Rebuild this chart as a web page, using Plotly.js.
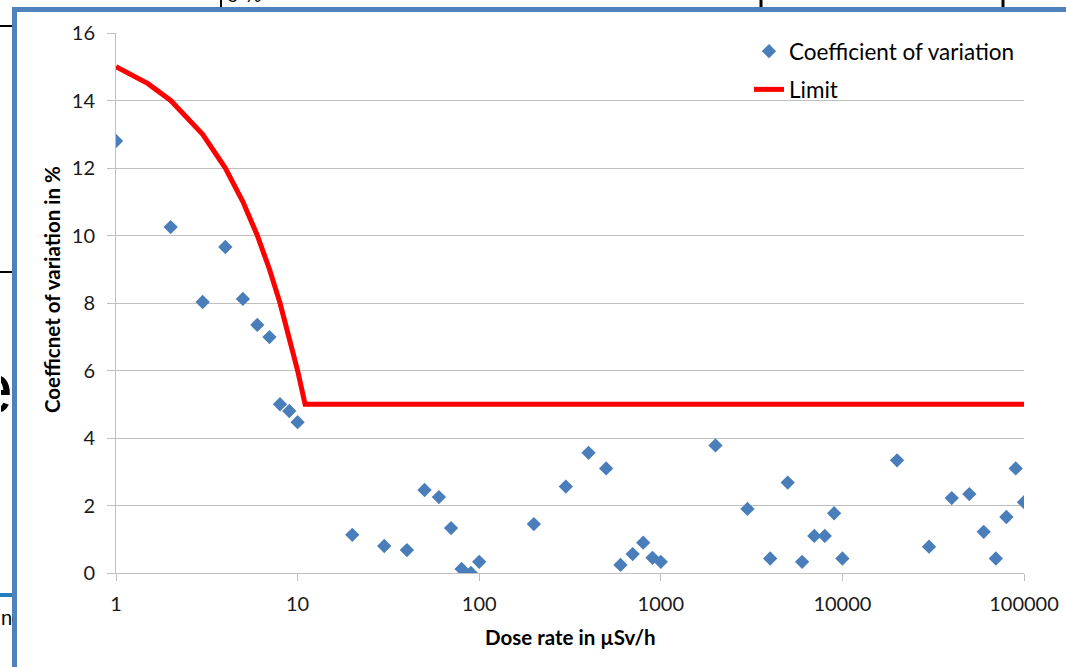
<!DOCTYPE html>
<html>
<head>
<meta charset="utf-8">
<script src="https://cdn.plot.ly/plotly-3.0.1.min.js"></script>
<style>html,body{margin:0;padding:0;background:#fff;}#chart{width:1066px;height:667px;}</style>
</head>
<body>
<div id="chart"></div>
<script>
// Measured data
const doseRate = [1,2,3,4,5,6,7,8,9,10,20,30,40,50,60,70,80,90,100,200,300,400,500,600,700,800,900,1000,2000,3000,4000,5000,6000,7000,8000,9000,10000,20000,30000,40000,50000,60000,70000,80000,90000,100000];
const coeffVar = [12.8,10.25,8.03,9.66,8.12,7.35,6.99,5.0,4.8,4.47,1.13,0.8,0.68,2.46,2.25,1.33,0.12,0.0,0.33,1.45,2.56,3.56,3.1,0.24,0.56,0.9,0.45,0.33,3.78,1.9,0.43,2.68,0.33,1.1,1.1,1.77,0.43,3.34,0.78,2.22,2.34,1.22,0.43,1.66,3.1,2.1];
const limitX = [1,1.5,2,3,4,5,6,7,8,9,10,11,100000];
const limitY = [15,14.5,14,13,12,11,10,9,8,7,6,5,5];
const xTickVals = [1,10,100,1000,10000,100000];
const xTickText = ['1','10','100','1000','10000','100000'];
const seriesNames = ['Coefficient of variation', 'Limit'];
const xTitle = 'Dose rate in µSv/h';
const yTitle = 'Coefficnet of variation in %';

// pixel -> paper helpers (plot area 116..1024 x, 33..573 y)
const PX = p => (p - 116) / 908;
const PY = p => (573 - p) / 540;

const fontFam = 'Lato, "Open Sans", sans-serif';
const axisGray = '#bfbfbf';

const traces = [
  {
    x: doseRate, y: coeffVar, type: 'scatter', mode: 'markers',
    name: seriesNames[0], legendgroup: 'a',
    marker: {symbol: 'diamond', size: 11, color: '#4a7ebb'}
  },
  {
    x: limitX, y: limitY, type: 'scatter', mode: 'lines',
    name: seriesNames[1], legendgroup: 'b',
    line: {color: '#ff0000', width: 5}
  }
];

const frameColor = '#4f81bd';
const L = (x0, y0, x1, y1, color, width) => ({type:'line', xref:'paper', yref:'paper', layer:'above',
  x0:PX(x0), x1:PX(x1), y0:PY(y0), y1:PY(y1), line:{color:color, width:width}});
const shapes = [
  // artifacts outside the frame
  L(0, 26, 13, 26, '#000', 2),
  L(0, 272, 13, 272, '#000', 2),
  L(0, 595, 13, 595, '#1f7fbf', 4),
  L(221, 0, 221, 10, '#000', 2),
  L(761, 0, 761, 10, '#000', 3),
  L(1003, 0, 1003, 10, '#000', 3),
  // slide frame
  L(14.5, 7, 14.5, 667, frameColor, 5),
  L(12, 9.5, 1066, 9.5, frameColor, 5)
];

const annotations = [
  // y axis title
  {xref:'paper', yref:'paper', x:PX(52), y:PY(290), xanchor:'center', yanchor:'middle', textangle:-90,
   text:'<b>' + yTitle + '</b>', showarrow:false, font:{family:fontFam, size:20.5, color:'#000'}},
  // x axis title
  {xref:'paper', yref:'paper', x:PX(570), y:PY(637), xanchor:'center', yanchor:'middle',
   text:'<b>' + xTitle + '</b>', showarrow:false, font:{family:fontFam, size:20.5, color:'#000'}},
  // clipped slide artifacts
  {xref:'paper', yref:'paper', x:PX(0), y:PY(388), xanchor:'left', yanchor:'middle', width:12, align:'right',
   text:'e', showarrow:false, borderpad:0, font:{family:'Liberation Sans, sans-serif', size:72, color:'#000'}},
  {xref:'paper', yref:'paper', x:PX(0), y:PY(618), xanchor:'left', yanchor:'middle', width:12, align:'left',
   text:'nc', showarrow:false, borderpad:0, font:{family:'Liberation Sans, sans-serif', size:20, color:'#000'}},
  {xref:'paper', yref:'paper', x:PX(226), y:PY(7), xanchor:'left', yanchor:'bottom', height:8, valign:'bottom',
   text:'o %', showarrow:false, borderpad:0, font:{family:'Liberation Sans, sans-serif', size:20, color:'#000'}}
];

const layout = {
  width: 1066, height: 667,
  margin: {l:116, r:42, t:33, b:94},
  paper_bgcolor: '#ffffff', plot_bgcolor: '#ffffff',
  showlegend: true,
  legend: {
    x: PX(749), y: PY(30), xanchor: 'left', yanchor: 'top',
    traceorder: 'grouped', tracegroupgap: 6,
    font: {family: fontFam, size: 22.5, color: '#000'},
    bgcolor: 'rgba(0,0,0,0)', itemwidth: 30
  },
  xaxis: {
    type: 'log', range: [0, 5],
    tickvals: xTickVals, ticktext: xTickText,
    showgrid: false, showline: true, linecolor: axisGray, linewidth: 1,
    ticks: 'outside', ticklen: 7, tickcolor: axisGray, ticklabelstandoff: 6,
    tickfont: {family: fontFam, size: 20, color: '#1a1a1a'},
    zeroline: false
  },
  yaxis: {
    range: [0, 16], dtick: 2,
    showgrid: true, gridcolor: axisGray, gridwidth: 1,
    showline: true, linecolor: axisGray, linewidth: 1,
    ticks: 'outside', ticklen: 8, tickcolor: axisGray, ticklabelstandoff: 8,
    tickfont: {family: fontFam, size: 20, color: '#1a1a1a'},
    zeroline: false
  },
  shapes: shapes,
  annotations: annotations
};

Plotly.newPlot('chart', traces, layout, {displayModeBar: false, staticPlot: true});
</script>
</body>
</html>
